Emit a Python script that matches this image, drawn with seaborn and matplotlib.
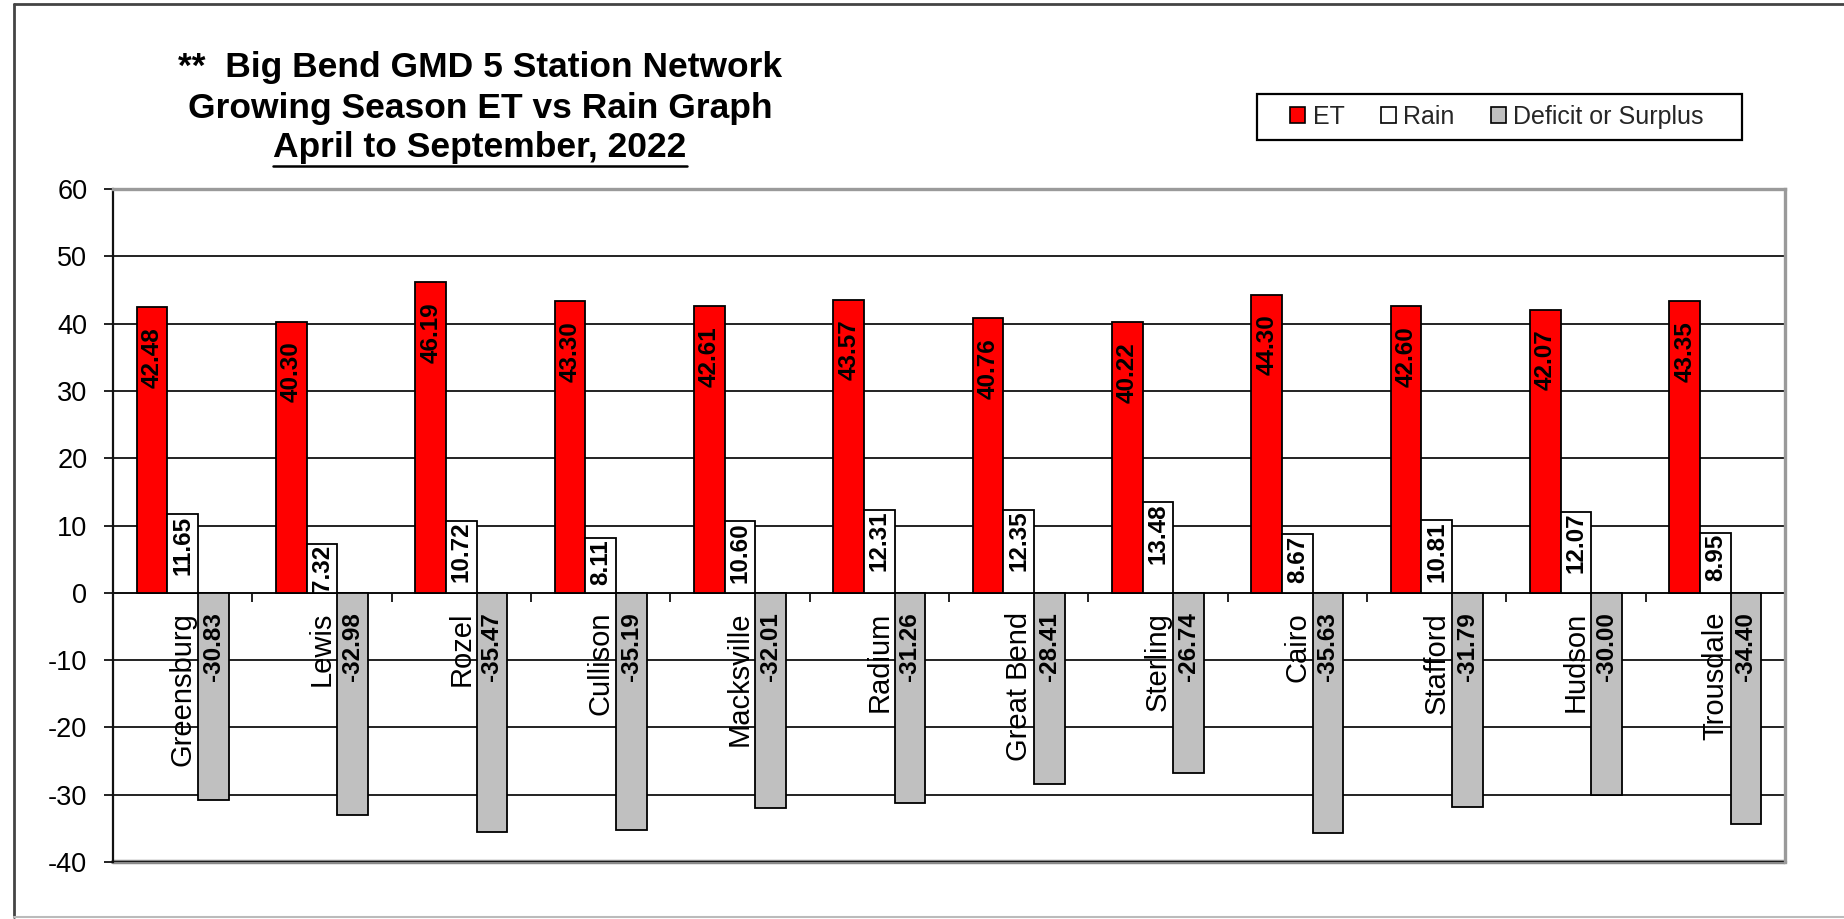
import numpy as np
import pandas as pd
import seaborn as sns
import matplotlib
matplotlib.use("Agg")
import matplotlib.pyplot as plt
from matplotlib.patches import Patch, Rectangle
from matplotlib.lines import Line2D
from matplotlib.transforms import offset_copy

# ---- data ----
stations = ["Greensburg", "Lewis", "Rozel", "Cullison", "Macksville", "Radium",
            "Great Bend", "Sterling", "Cairo", "Stafford", "Hudson", "Trousdale"]
et = [42.48, 40.30, 46.19, 43.30, 42.61, 43.57, 40.76, 40.22, 44.30, 42.60, 42.07, 43.35]
rain = [11.65, 7.32, 10.72, 8.11, 10.60, 12.31, 12.35, 13.48, 8.67, 10.81, 12.07, 8.95]
balance = [-30.83, -32.98, -35.47, -35.19, -32.01, -31.26, -28.41, -26.74, -35.63, -31.79, -30.00, -34.40]
series = ["ET", "Rain", "Deficit or Surplus"]
y_ticks = [60, 50, 40, 30, 20, 10, 0, -10, -20, -30, -40]
title_lines = ["**  Big Bend GMD 5 Station Network",
               "Growing Season ET vs Rain Graph",
               "April to September, 2022"]

# ---- style ----
sns.set_style("white")
plt.rcParams["font.family"] = ["Liberation Sans", "DejaVu Sans"]

W, H, DPI = 1844, 919, 100
fig = plt.figure(figsize=(W / DPI, H / DPI), dpi=DPI)
fig.patch.set_facecolor("white")


def fx(px):
    return px / W


def fy(py):
    return 1 - py / H


ax = fig.add_axes([fx(113), fy(862), fx(1785) - fx(113), fy(189) - fy(862)])

df = pd.DataFrame({
    "Station": stations * 3,
    "Series": np.repeat(series, len(stations)),
    "Value": et + rain + balance,
})
palette = {"ET": "#FF0000", "Rain": "#FFFFFF", "Deficit or Surplus": "#C0C0C0"}

sns.barplot(data=df, x="Station", y="Value", hue="Series", order=stations,
            hue_order=series, palette=palette, width=0.66, gap=0,
            saturation=1, edgecolor="black", linewidth=1.3, errorbar=None,
            legend=False, ax=ax, zorder=3)

ax.set_xlim(-0.5, len(stations) - 0.5)
ax.set_ylim(-40, 60)
ax.set_yticks(y_ticks)
ax.set_yticklabels([str(v) for v in y_ticks])
ax.set_xlabel("")
ax.set_ylabel("")
ax.set_facecolor("white")

# horizontal gridlines
ax.yaxis.grid(True, color="#111111", linewidth=1.3, zorder=1)
ax.xaxis.grid(False)
ax.set_axisbelow(True)

# category axis sits on zero, ticks between categories
ax.set_xticks(np.arange(-0.5, len(stations)))
ax.set_xticklabels([])
ax.spines["bottom"].set_position(("data", 0))
ax.spines["bottom"].set_color("#111111")
ax.spines["bottom"].set_linewidth(1.3)
ax.spines["bottom"].set_zorder(2)
ax.spines["left"].set_color("#111111")
ax.spines["left"].set_linewidth(1.6)
for side in ("top", "right"):
    ax.spines[side].set_color("#9a9a9a")
    ax.spines[side].set_linewidth(2.4)
ax.add_line(Line2D([0, 1], [0, 0], transform=ax.transAxes, color="#8a8a8a",
                   linewidth=3.2, zorder=0.5, clip_on=False))

ax.tick_params(axis="y", direction="out", length=6.5, width=1.3, color="#111111",
               labelsize=19.5, pad=12, left=True, labelcolor="black")
ax.tick_params(axis="x", direction="out", length=6.5, width=1.3, color="#111111",
               bottom=True)

# station names under the zero line
name_tr = offset_copy(ax.transData, fig=fig, y=-19, units="dots")
for i, name in enumerate(stations):
    ax.text(i, 0, name, rotation=90, ha="center", va="top", fontsize=21,
            color="black", transform=name_tr, zorder=4)

# value labels inside the bars
values = [et, rain, balance]
offsets = [-20, -1, -19]
for container, vals, off in zip(ax.containers, values, offsets):
    tr = offset_copy(ax.transData, fig=fig, y=off, units="dots")
    for bar, v in zip(container, vals):
        xc = bar.get_x() + bar.get_width() / 2
        y0 = v if v > 0 else 0
        ax.text(xc, y0, f"{v:.2f}", rotation=90, ha="center", va="top",
                fontsize=17.5, fontweight="bold", color="black", transform=tr,
                zorder=5)

# title block
baselines = [77, 118, 157]
title_texts = []
for line, yb in zip(title_lines, baselines):
    t = fig.text(fx(480), fy(yb), line, ha="center", va="baseline",
                 fontsize=25.5, fontweight="bold", color="black")
    title_texts.append(t)

fig.canvas.draw()
renderer = fig.canvas.get_renderer()
bb = title_texts[2].get_window_extent(renderer)
fig.add_artist(Line2D([bb.x0 / W, bb.x1 / W], [fy(166), fy(166)],
                      transform=fig.transFigure, color="black", linewidth=1.8))

# legend
handles = [Patch(facecolor=palette[s], edgecolor="black", linewidth=1.2) for s in series]
fig.legend(handles, series, loc="center left", bbox_to_anchor=(fx(1290), fy(117)),
           ncol=3, frameon=False, fontsize=18, handlelength=0.6, handleheight=0.6,
           handletextpad=0.3, columnspacing=1.45, borderpad=0, borderaxespad=0)
fig.add_artist(Rectangle((fx(1257), fy(140)), fx(1742) - fx(1257), fy(94) - fy(140),
                         transform=fig.transFigure, fill=False, edgecolor="black",
                         linewidth=1.6))

# outer border of the chart area
fig.add_artist(Line2D([fx(14), fx(14)], [fy(4), fy(917)], transform=fig.transFigure,
                      color="#444444", linewidth=2))
fig.add_artist(Line2D([fx(14), 1], [fy(4), fy(4)], transform=fig.transFigure,
                      color="#444444", linewidth=2))
fig.add_artist(Line2D([fx(14), 1], [fy(917), fy(917)], transform=fig.transFigure,
                      color="#bbbbbb", linewidth=1.5))

fig.savefig("out.png", dpi=DPI, facecolor="white")
